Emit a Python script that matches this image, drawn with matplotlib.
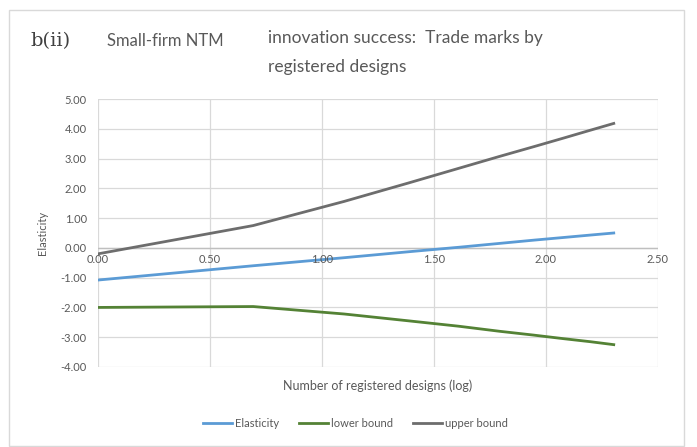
import numpy as np
import matplotlib.pyplot as plt
from matplotlib.patches import Rectangle

# x positions: log of number of registered designs (1..10)
designs = np.arange(1, 11)
log_designs = np.log(designs)

elasticity = [-1.08, -0.60, -0.33, -0.13, 0.02, 0.15, 0.26, 0.35, 0.43, 0.50]
lower_bound = [-2.00, -1.97, -2.22, -2.45, -2.63, -2.80, -2.93, -3.05, -3.15, -3.25]
upper_bound = [-0.20, 0.75, 1.56, 2.18, 2.67, 3.07, 3.40, 3.69, 3.95, 4.18]

x_ticks = [0.0, 0.5, 1.0, 1.5, 2.0, 2.5]
y_ticks = [-4, -3, -2, -1, 0, 1, 2, 3, 4, 5]

TEXT = '#595959'
GRID = '#d9d9d9'
FONT = 'Lato'

plt.rcParams['font.family'] = FONT

fig = plt.figure(figsize=(6.97, 4.47), dpi=100)
fig.patches.append(Rectangle((0.013, 0.002), 0.968, 0.975, transform=fig.transFigure,
                             facecolor='none', edgecolor='#d9d9d9', linewidth=1.0, zorder=-10))

ax = fig.add_axes([0.1406, 0.179, 0.8034, 0.5995])
ax.set_xlim(0, 2.5)
ax.set_ylim(-4, 5)

ax.plot(log_designs, elasticity, color='#5b9bd5', linewidth=2, label='Elasticity')
ax.plot(log_designs, lower_bound, color='#548235', linewidth=2, label='lower bound')
ax.plot(log_designs, upper_bound, color='#6d6d6d', linewidth=2, label='upper bound')

ax.set_xticks(x_ticks)
ax.set_yticks(y_ticks)
ax.set_yticklabels([f'{v:.2f}' for v in y_ticks], fontsize=8, color=TEXT)
ax.grid(True, color=GRID, linewidth=0.9)
ax.set_axisbelow(True)
for side in ['left', 'right', 'top', 'bottom']:
    ax.spines[side].set_visible(False)
ax.tick_params(length=0, pad=8)

# horizontal axis crosses at zero, labels sit just under it
ax.axhline(0, color='#bfbfbf', linewidth=1.0, zorder=1)
ax.set_xticklabels([])
for v in x_ticks:
    ax.text(v, -0.22, f'{v:.2f}', ha='center', va='top', fontsize=8, color=TEXT)

ax.set_ylabel('Elasticity', fontsize=8, color=TEXT, labelpad=9)
ax.set_xlabel('Number of registered designs (log)', fontsize=9, color=TEXT, labelpad=1)

fig.text(0.043, 0.908, 'b(ii)', fontsize=14, color='#404040', family='DejaVu Serif', va='center')
fig.text(0.153, 0.908, 'Small-firm NTM', fontsize=12, color=TEXT, va='center')
fig.text(0.385, 0.915, 'innovation success:  Trade marks by', fontsize=12.5, color=TEXT, va='center')
fig.text(0.385, 0.850, 'registered designs', fontsize=12.5, color=TEXT, va='center')

fig.legend(loc='center', bbox_to_anchor=(0.51, 0.052), ncol=3, frameon=False,
           fontsize=8, labelcolor=TEXT, handlelength=2.6, handletextpad=0.3,
           columnspacing=1.8)

fig.savefig('out.png', dpi=100)
